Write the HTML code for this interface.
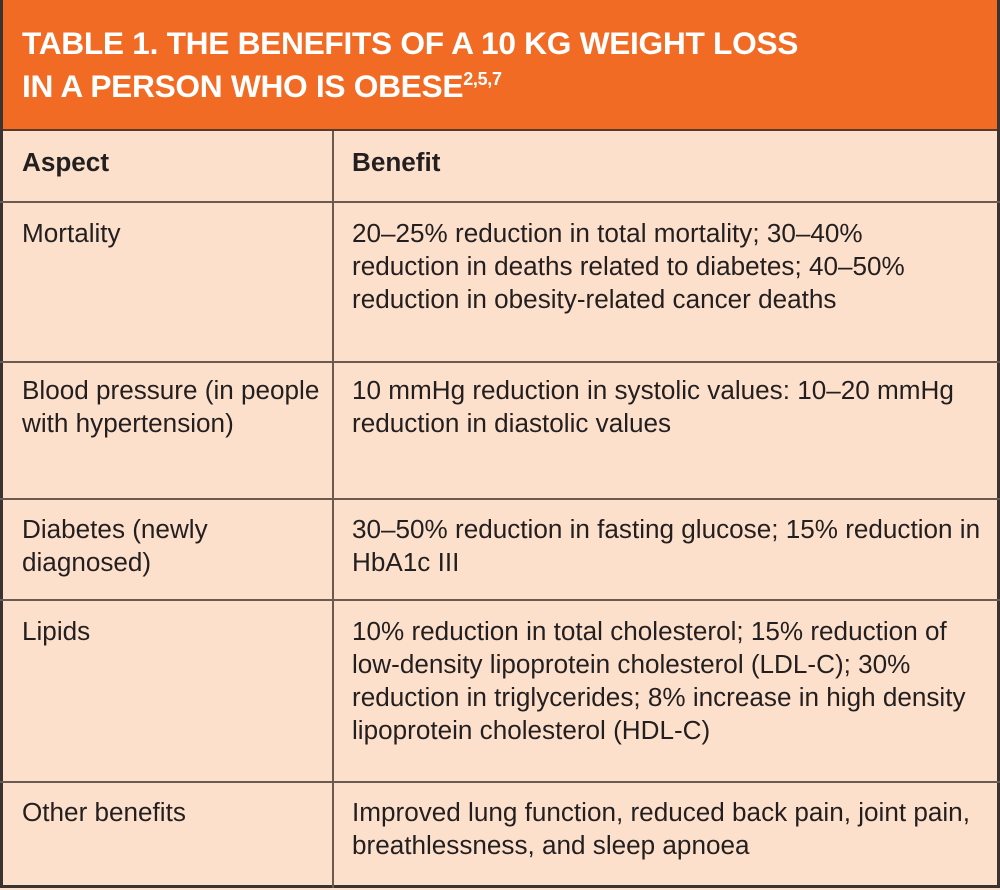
<!DOCTYPE html>
<html><head><meta charset="utf-8"><style>
html,body{margin:0;padding:0;}
body{width:1000px;height:890px;position:relative;background:#fde0cb;font-family:"Liberation Sans",sans-serif;color:#231f20;overflow:hidden;}
#frame{position:absolute;left:0;top:0;width:994px;height:885px;border:3px solid #3a3330;border-top:none;}
#title{position:absolute;left:0;top:0;width:1000px;height:131px;background:#f26b24;border-bottom:2px solid #5a3a2a;box-sizing:border-box;}
#title div{position:absolute;left:22px;top:22px;color:#fff;font-weight:bold;font-size:31.7px;line-height:43px;letter-spacing:-0.3px;}
sup{font-size:18px;vertical-align:12px;line-height:0;}
.hl{position:absolute;left:0;width:1000px;height:2px;background:#6b5a50;}
.vl{position:absolute;left:332px;top:131px;width:2px;height:757px;background:#6b5a50;}
.c{position:absolute;font-size:26.1px;line-height:33px;}
.a{left:22px;width:310px;}
.b{left:352px;width:645px;}
.h{font-weight:bold;}
</style></head><body>
<div id="title"><div>TABLE 1. THE BENEFITS OF A 10 KG WEIGHT LOSS<br>IN A PERSON WHO IS OBESE<sup>2,5,7</sup></div></div>
<div id="frame"></div>
<div class="vl"></div>
<div class="hl" style="top:201px"></div>
<div class="hl" style="top:361px"></div>
<div class="hl" style="top:498px"></div>
<div class="hl" style="top:599px"></div>
<div class="hl" style="top:781px"></div>
<div class="c a h" style="top:146px">Aspect</div>
<div class="c b h" style="top:146px">Benefit</div>
<div class="c a" style="top:217px">Mortality</div>
<div class="c b" style="top:217px">20–25% reduction in total mortality; 30–40%<br>reduction in deaths related to diabetes; 40–50%<br>reduction in obesity-related cancer deaths</div>
<div class="c a" style="top:374px">Blood pressure (in people<br>with hypertension)</div>
<div class="c b" style="top:374px">10 mmHg reduction in systolic values: 10–20 mmHg<br>reduction in diastolic values</div>
<div class="c a" style="top:513px">Diabetes (newly<br>diagnosed)</div>
<div class="c b" style="top:513px">30–50% reduction in fasting glucose; 15% reduction in<br>HbA1c III</div>
<div class="c a" style="top:615px">Lipids</div>
<div class="c b" style="top:615px">10% reduction in total cholesterol; 15% reduction of<br>low-density lipoprotein cholesterol (LDL-C); 30%<br>reduction in triglycerides; 8% increase in high density<br>lipoprotein cholesterol (HDL-C)</div>
<div class="c a" style="top:796px">Other benefits</div>
<div class="c b" style="top:796px">Improved lung function, reduced back pain, joint pain,<br>breathlessness, and sleep apnoea</div>
</body></html>
